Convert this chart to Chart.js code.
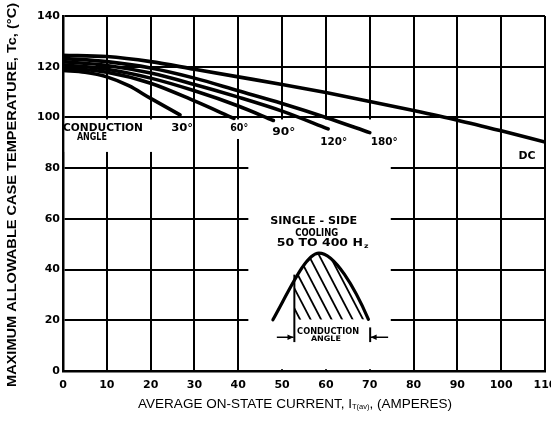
<!DOCTYPE html>
<html><head><meta charset="utf-8">
<script src="https://cdn.jsdelivr.net/npm/chart.js@4.4.1/dist/chart.umd.min.js"></script>
<style>html,body{margin:0;padding:0;background:#fff;}</style>
</head><body>
<canvas id="c" width="551" height="422"></canvas>
<script>
// ---- data ----
const xTicks = [0,10,20,30,40,50,60,70,80,90,100,110];
const yTicks = [0,20,40,60,80,100,120,140];
const seriesNames = ['DC','180°','120°','90°','60°','30°'];
const dcX   = [0,10,20,30,40,50,60,70,80,90,100,110];
const dcY   = [124.5,124,122,119,116,113,109.8,106.3,102.7,98.9,94.7,90.3];
const c180X = [0,10,20,30,40,50,60,70];
const c180Y = [123.3,122,119.5,115.5,110.5,105.5,100,94];
const c120X = [0,10,20,30,40,50,60.5];
const c120Y = [122,120.5,117.5,113,108,102.5,95.5];
const c90X  = [0,10,20,30,40,48];
const c90Y  = [120.8,119,115.5,110.5,104.5,98.8];
const c60X  = [0,10,20,30,39];
const c60Y  = [119.6,117.8,113.5,106.5,99.6];
const c30X  = [0,5,10,15,20,26.7];
const c30Y  = [118.5,117.8,116,112.5,107.5,101];
const seriesX = [dcX,c180X,c120X,c90X,c60X,c30X];
const seriesY = [dcY,c180Y,c120Y,c90Y,c60Y,c30Y];

const yTitle = 'MAXIMUM ALLOWABLE CASE TEMPERATURE, Tc, (°C)';
const xTitleParts = ['AVERAGE ON-STATE CURRENT, I', 'T(av)', ', (AMPERES)'];

// ---- annotation layout (data units for position, px for size) ----
const notes = [
  {t:'CONDUCTION', x:9.13, y:95.8, s:11, w:80},
  {t:'ANGLE', x:6.6, y:92.3, s:10, w:30},
  {t:'30°', x:27.2, y:95.8, s:11, w:22},
  {t:'60°', x:40.2, y:95.8, s:11, w:18},
  {t:'90°', x:50.4, y:94.2, s:11, w:23},
  {t:'120°', x:61.8, y:90.3, s:11, w:27},
  {t:'180°', x:73.3, y:90.3, s:11, w:27},
  {t:'DC', x:105.9, y:84.8, s:11, w:17},
  {t:'SINGLE - SIDE', x:57.2, y:59.1, s:10.5, w:87},
  {t:'COOLING', x:57.9, y:54.4, s:10.5, w:43},
  {t:'CONDUCTION', x:60.5, y:15.4, s:8, w:62},
  {t:'ANGLE', x:60.0, y:12.6, s:7.5, w:30}
];
const whiteBoxes = [
  [42.3, 74.8, 0.7, 99.2],
  [0.4, 20.6, 86.4, 99.2],
  [22.5, 29.4, 91.5, 99.2],
  [37.0, 43.2, 91.5, 99.2]
];
const inset = {
  L:[47.9,20.2], c1:[52,33], c2:[55.5,46.5], P:[58.4,46.5],
  c3:[62,46.5], c4:[66.5,33], R:[69.7,20.4],
  vx:52.8, vBottom:11.4, base:19.7, arrowY:13.3,
  la:[48.8,52.6], ra:[74.2,70.2], rTickX:70.1, rTickTop:17.2,
  hzX:48.8, hzY:50.5, hzW:86
};

function fitText(ctx, text, cx, cy, size, w, weight, family) {
  ctx.save();
  ctx.font = (weight||'bold') + ' ' + size + 'px ' + (family||'"DejaVu Sans"');
  const m = ctx.measureText(text).width;
  ctx.translate(cx, cy);
  ctx.scale(w ? w/m : 1, 1);
  ctx.textAlign = 'center'; ctx.textBaseline = 'middle';
  ctx.fillStyle = '#000';
  ctx.fillText(text, 0, 0);
  ctx.restore();
}

const decor = {
  id:'decor',
  beforeDatasetsDraw(chart){
    const {ctx, scales:{x, y}} = chart;
    ctx.save();
    ctx.fillStyle = '#fff';
    whiteBoxes.forEach(b=>{
      const x0 = x.getPixelForValue(b[0]), x1 = x.getPixelForValue(b[1]);
      const y0 = y.getPixelForValue(b[3]), y1 = y.getPixelForValue(b[2]);
      ctx.fillRect(x0, y0, x1-x0, y1-y0);
    });
    ctx.restore();
  },
  afterDatasetsDraw(chart){
    const {ctx, scales:{x, y}} = chart;
    const X = v=>x.getPixelForValue(v), Y = v=>y.getPixelForValue(v);
    const pt = p=>[X(p[0]), Y(p[1])];
    notes.forEach(n=>fitText(ctx, n.t, X(n.x), Y(n.y), n.s, n.w));
    // 50 TO 400 Hz
    ctx.save();
    ctx.font = 'bold 10.5px "DejaVu Sans"';
    const m = ctx.measureText('50 TO 400 H').width;
    ctx.translate(X(inset.hzX), Y(inset.hzY));
    ctx.scale(inset.hzW/m, 1);
    ctx.textAlign='left'; ctx.textBaseline='middle'; ctx.fillStyle='#000';
    ctx.fillText('50 TO 400 H', 0, 0);
    ctx.font = 'bold 6.5px "DejaVu Sans"';
    ctx.fillText('z', m+1, 3);
    ctx.restore();
    // hump
    const L=pt(inset.L), c1=pt(inset.c1), c2=pt(inset.c2), P=pt(inset.P), c3=pt(inset.c3), c4=pt(inset.c4), R=pt(inset.R);
    const hump = ()=>{ ctx.beginPath(); ctx.moveTo(L[0],L[1]); ctx.bezierCurveTo(c1[0],c1[1],c2[0],c2[1],P[0],P[1]); ctx.bezierCurveTo(c3[0],c3[1],c4[0],c4[1],R[0],R[1]); };
    ctx.save();
    ctx.strokeStyle='#000'; ctx.lineWidth=3.2; ctx.lineCap='round';
    hump(); ctx.stroke();
    // hatch
    ctx.save();
    hump(); ctx.closePath(); ctx.clip();
    const vxp = X(inset.vx), bp = Y(inset.base);
    ctx.beginPath(); ctx.rect(vxp, P[1]-5, R[0]-vxp, bp-(P[1]-5)); ctx.clip();
    ctx.lineWidth=1.8; ctx.lineCap='butt';
    const dx=28.7, dy=55;
    for(let k=-6;k<10;k++){
      const sx = vxp + k*10.5, sy = P[1]-5;
      ctx.beginPath(); ctx.moveTo(sx, sy); ctx.lineTo(sx+dx*2, sy+dy*2); ctx.stroke();
    }
    ctx.restore();
    // vertical line
    ctx.lineWidth=2; ctx.lineCap='butt';
    ctx.beginPath(); ctx.moveTo(vxp, Y(38)); ctx.lineTo(vxp, Y(inset.vBottom)); ctx.stroke();
    // right tick
    const rt = X(inset.rTickX);
    ctx.beginPath(); ctx.moveTo(rt, Y(inset.rTickTop)); ctx.lineTo(rt, Y(inset.vBottom)); ctx.stroke();
    // arrows
    const ay = Y(inset.arrowY);
    ctx.lineWidth=1.5;
    const arrow=(from,to)=>{
      const a=X(from), b=X(to), d=Math.sign(b-a);
      ctx.beginPath(); ctx.moveTo(a,ay); ctx.lineTo(b,ay); ctx.stroke();
      ctx.beginPath(); ctx.moveTo(b,ay); ctx.lineTo(b-d*6,ay-2.8); ctx.lineTo(b-d*6,ay+2.8); ctx.closePath(); ctx.fill();
    };
    ctx.fillStyle='#000';
    arrow(inset.la[0], inset.la[1]);
    arrow(inset.ra[0], inset.ra[1]);
    ctx.restore();
  },
  afterDraw(chart){
    const ctx = chart.ctx;
    // y title
    ctx.save();
    ctx.translate(12, 195);
    ctx.rotate(-Math.PI/2);
    ctx.font = 'bold 13px "Liberation Sans"';
    const m = ctx.measureText(yTitle).width;
    ctx.scale(384/m, 1);
    ctx.textAlign='center'; ctx.textBaseline='middle'; ctx.fillStyle='#000';
    ctx.fillText(yTitle, 0, 0);
    ctx.restore();
    // x title
    ctx.save();
    ctx.fillStyle='#000'; ctx.textBaseline='middle'; ctx.textAlign='left';
    const f1 = '13.5px "Liberation Sans"', f2 = '7.5px "Liberation Sans"';
    ctx.font=f1; const w1=ctx.measureText(xTitleParts[0]).width, w3=ctx.measureText(xTitleParts[2]).width;
    ctx.font=f2; const w2=ctx.measureText(xTitleParts[1]).width;
    const tot=w1+w2+w3; let sx = 295 - tot/2; const yy=404;
    ctx.font=f1; ctx.fillText(xTitleParts[0], sx, yy);
    ctx.font=f2; ctx.fillText(xTitleParts[1], sx+w1, yy+3);
    ctx.font=f1; ctx.fillText(xTitleParts[2], sx+w1+w2, yy);
    ctx.restore();
  }
};

const tickFont = {family:'"DejaVu Sans"', weight:'bold', size:11};
new Chart(document.getElementById('c'), {
  type:'scatter',
  data:{datasets: seriesNames.map((n,i)=>({
    label:n,
    data: seriesX[i].map((xv,j)=>({x:xv, y:seriesY[i][j]})),
    showLine:true, borderColor:'#000', borderWidth:3.6, pointRadius:0,
    cubicInterpolationMode:'monotone', fill:false, borderCapStyle:'round'
  }))},
  options:{
    responsive:false, animation:false, devicePixelRatio:1,
    layout:{padding:{left:0,right:6,top:16,bottom:0}},
    plugins:{legend:{display:false}, tooltip:{enabled:false}},
    scales:{
      x:{type:'linear', min:0, max:110,
        afterBuildTicks(s){ s.ticks = xTicks.map(v=>({value:v})); },
        afterFit(s){ s.height = 51; s.paddingLeft=0; s.paddingRight=0; },
        grid:{color:'#000', lineWidth:2, drawTicks:false},
        border:{color:'#000', width:2.5},
        ticks:{color:'#000', font:tickFont, padding:8, maxRotation:0, autoSkip:false}
      },
      y:{type:'linear', min:0, max:140,
        afterBuildTicks(s){ s.ticks = yTicks.map(v=>({value:v})); },
        afterFit(s){ s.width = 63; s.paddingTop=0; s.paddingBottom=0; },
        grid:{color:'#000', lineWidth:2, drawTicks:false},
        border:{color:'#000', width:2.5},
        ticks:{color:'#000', font:tickFont, padding:3, autoSkip:false}
      }
    }
  },
  plugins:[decor]
});
</script>
</body></html>
